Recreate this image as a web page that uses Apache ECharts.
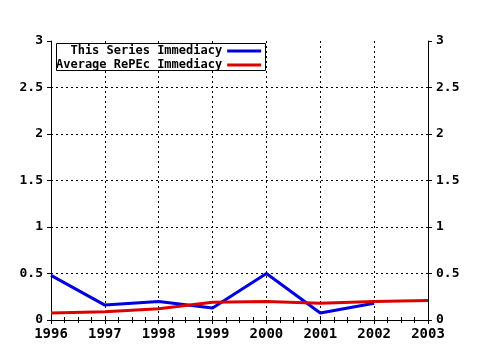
<!DOCTYPE html>
<html><head><meta charset="utf-8">
<script src="https://cdn.jsdelivr.net/npm/echarts@6/dist/echarts.min.js"></script>
<style>html,body{margin:0;padding:0;background:#fff}#c{width:480px;height:350px}</style>
</head><body><div id="c"></div>
<script>
const years = [1996, 1997, 1998, 1999, 2000, 2001, 2002, 2003];
const seriesNames = ['This Series Immediacy', 'Average RePEc Immediacy'];
const thisSeries = [0.48, 0.16, 0.20, 0.13, 0.50, 0.075, 0.18];
const avgRepec = [0.075, 0.09, 0.12, 0.19, 0.20, 0.18, 0.20, 0.21];
const yTicks = [0, 0.5, 1, 1.5, 2, 2.5, 3];

const font = 'DejaVu Sans Mono';
const chart = echarts.init(document.getElementById('c'));
const grid = {left: 51, right: 52, top: 41, bottom: 30};
const xBase = {
  type: 'value', min: years[0], max: years[years.length - 1], interval: 1,
  axisLine: {show: true, lineStyle: {color: '#000', width: 1}},
};
const yBase = {
  type: 'value', min: yTicks[0], max: yTicks[yTicks.length - 1], interval: 0.5,
  axisLine: {show: true, lineStyle: {color: '#000', width: 1}},
  axisTick: {show: true, inside: false, length: 4, lineStyle: {color: '#000'}},
  axisLabel: {color: '#000', fontFamily: font, fontWeight: 'bold', fontSize: 13, margin: 8}
};
chart.setOption({
  animation: false,
  backgroundColor: '#fff',
  grid: grid,
  graphic: [{
    type: 'rect', zlevel: 1, z: 0, silent: true,
    shape: {x: 56.5, y: 43.5, width: 209, height: 27},
    style: {fill: '#fff', stroke: '#000', lineWidth: 1}
  }],
  legend: {
    left: 56, top: 43, orient: 'vertical', align: 'right', zlevel: 1, z: 20,
    backgroundColor: 'transparent', borderWidth: 0,
    padding: [2, 4, 1, 0], itemGap: 2, itemWidth: 34, itemHeight: 3,
    icon: 'rect',
    formatter: n => n.padStart(23, '\u00a0'),
    textStyle: {color: '#000', fontFamily: font, fontWeight: 'bold', fontSize: 12, padding: [0, 0, 0, 0]},
    data: seriesNames
  },
  xAxis: [
    Object.assign({}, xBase, {
      position: 'bottom',
      axisTick: {show: true, inside: false, length: 4, lineStyle: {color: '#000'}},
      minorTick: {show: true, splitNumber: 4, length: 3, lineStyle: {color: '#000'}},
      axisLabel: {color: '#000', fontFamily: font, fontWeight: 'bold', fontSize: 14, margin: 7,
        formatter: v => String(v)},
      splitLine: {show: true, showMinLine: false, showMaxLine: false,
        lineStyle: {color: '#000', type: [2, 3], width: 1}}
    }),
    Object.assign({}, xBase, {
      position: 'top',
      axisTick: {show: true, inside: false, length: 3, lineStyle: {color: '#000'}},
      minorTick: {show: true, splitNumber: 4, length: 3, lineStyle: {color: '#000'}},
      axisLabel: {show: false},
      splitLine: {show: false}
    })
  ],
  yAxis: [
    Object.assign({}, yBase, {
      position: 'left',
      splitLine: {show: true, showMinLine: false, showMaxLine: false,
        lineStyle: {color: '#000', type: [2, 3], width: 1}}
    }),
    Object.assign({}, yBase, {
      position: 'right',
      splitLine: {show: false}
    })
  ],
  series: [
    {
      name: seriesNames[0], type: 'line', symbol: 'none', color: '#0000dd',
      lineStyle: {width: 3, color: '#0000dd'},
      data: thisSeries.map((v, i) => [years[i], v])
    },
    {
      name: seriesNames[1], type: 'line', symbol: 'none', color: '#dd0000',
      lineStyle: {width: 3, color: '#dd0000'},
      data: avgRepec.map((v, i) => [years[i], v])
    }
  ]
});
</script></body></html>
